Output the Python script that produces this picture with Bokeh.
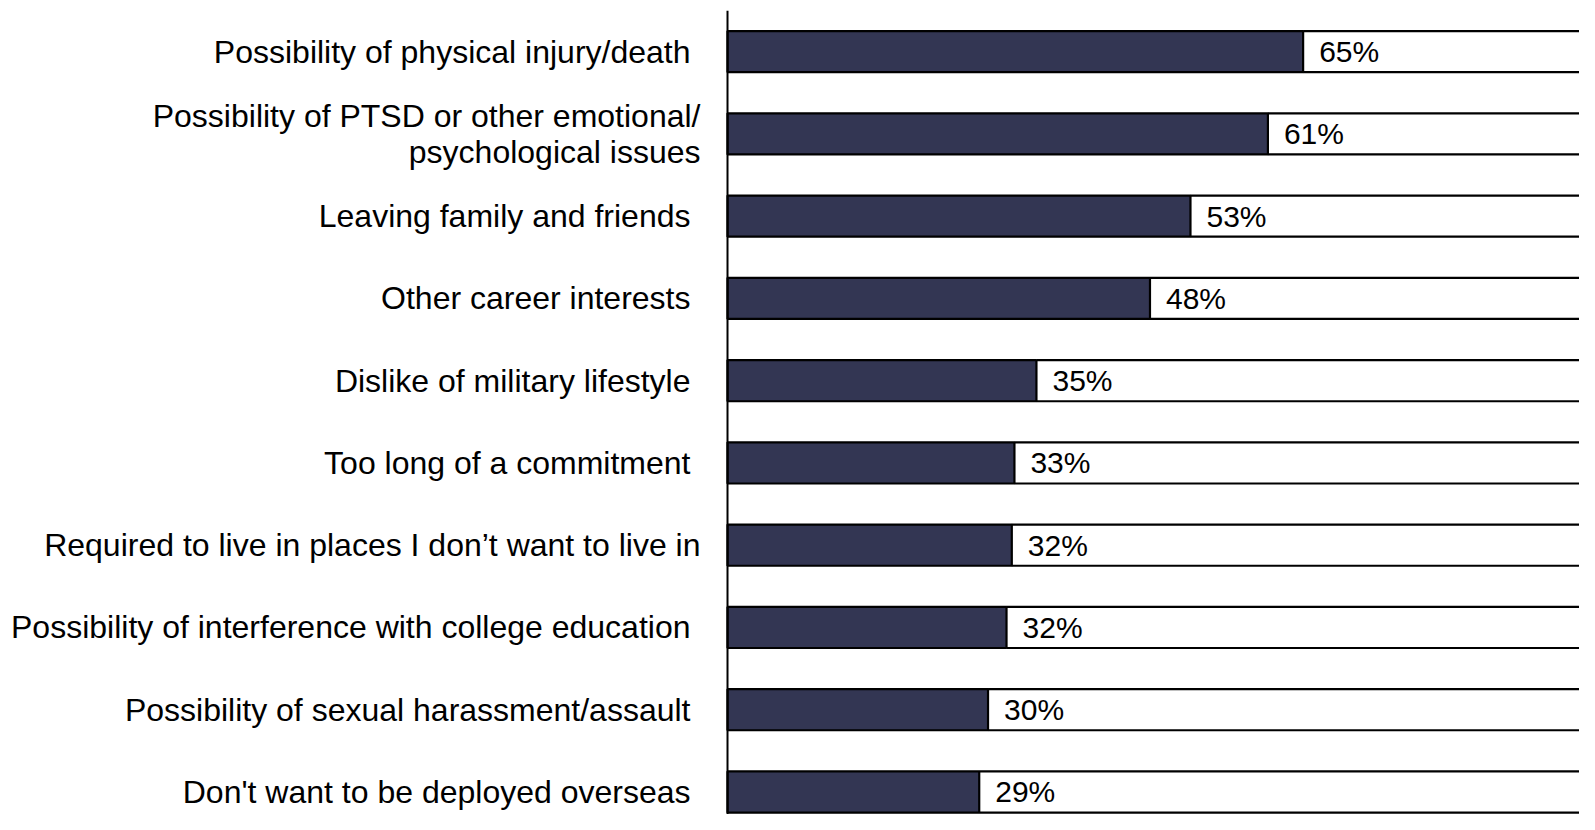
from bokeh.plotting import figure
from bokeh.models import Range1d, ColumnDataSource, Span
from bokeh.embed import file_html
from bokeh.resources import INLINE
from bokeh.core.properties import value

categories = [
    "Possibility of physical injury/death",
    "Possibility of PTSD or other emotional/\npsychological issues",
    "Leaving family and friends",
    "Other career interests",
    "Dislike of military lifestyle",
    "Too long of a commitment",
    "Required to live in places I don\u2019t want to live in",
    "Possibility of interference with college education",
    "Possibility of sexual harassment/assault",
    "Don't want to be deployed overseas",
]
values = [65.4, 61.4, 52.6, 48.0, 35.1, 32.6, 32.3, 31.7, 29.6, 28.6]
pct_labels = ["65%", "61%", "53%", "48%", "35%", "33%", "32%", "32%", "30%", "29%"]
total = 100

# layout-only: extra right shift of some category labels (in px)
label_shift = [0, 10, 0, 0, 0, 0, 10, 0, 0, 0]

FONT = "Liberation Sans"
NAVY = "#333653"
BAR_H = 0.5

ys = list(range(len(categories)))
src = ColumnDataSource(dict(
    y=ys, v=values, total=[total] * len(values), zero=[0] * len(values),
    top=[y - BAR_H / 2 for y in ys], bot=[y + BAR_H / 2 for y in ys],
    cat=categories, pct=pct_labels,
    lx=[-37 + s for s in label_shift],
))

# frame spans the whole figure; 0% sits at 727px, 8.8 px per percentage point
p = figure(width=1579, height=814, output_backend="svg", toolbar_location=None,
           x_range=Range1d(-82.6, 96.8), y_range=Range1d(9.274, -0.5),
           min_border_left=0, min_border_right=0, min_border_top=10, min_border_bottom=0)

# remaining (white) part: fill only, then top/bottom edges as segments
p.hbar(y="y", left="v", right="total", height=BAR_H, source=src,
       fill_color="white", line_color=None)
p.segment(x0="v", x1="total", y0="top", y1="top", source=src, line_color="black", line_width=2.2)
p.segment(x0="v", x1="total", y0="bot", y1="bot", source=src, line_color="black", line_width=2.2)
# value (navy) part
p.hbar(y="y", left="zero", right="v", height=BAR_H, source=src,
       fill_color=NAVY, line_color="black", line_width=2.2)

# category axis line
p.add_layout(Span(location=0, dimension="height", line_color="black", line_width=2))

p.text(x="v", y="y", text="pct", source=src, x_offset=16,
       text_align="left", text_baseline="middle",
       text_font=value(FONT), text_font_size="30px", text_color="black")

p.text(x="zero", y="y", text="cat", source=src, x_offset="lx",
       text_align="right", text_baseline="middle", text_line_height=1.0,
       text_font=value(FONT), text_font_size="32px", text_color="black")

p.xaxis.visible = False
p.yaxis.visible = False
p.xgrid.visible = False
p.ygrid.visible = False
p.outline_line_color = None
p.background_fill_color = "white"
p.border_fill_color = "white"

open("out.html", "w").write(file_html(p, INLINE))
